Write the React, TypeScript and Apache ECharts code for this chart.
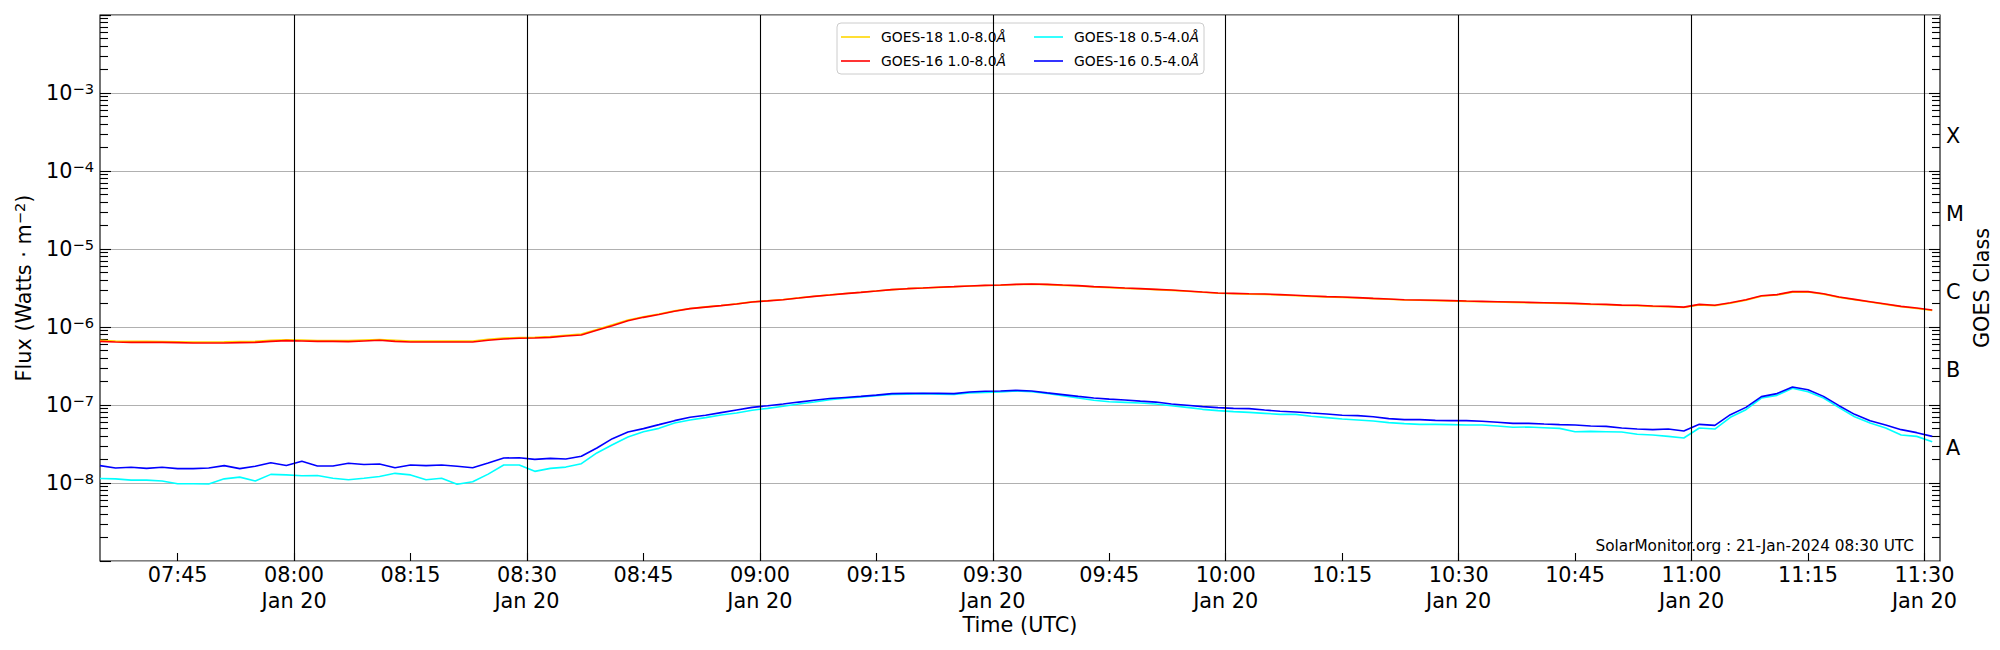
import React, { useEffect, useRef } from "react";
import * as echarts from "echarts";

// ---- sampling grid (minutes since 00:00 UTC, 20 Jan 2024) ----
const SAMPLE_START_MIN = 455; // 07:35 UTC
const SAMPLE_STEP_MIN = 2;
const X_MIN = 455; // 07:35
const X_MAX = 692; // 11:32
const TIME_TICKS = [465, 480, 495, 510, 525, 540, 555, 570, 585, 600, 615, 630, 645, 660, 675, 690];
const HALF_HOURS = [480, 510, 540, 570, 600, 630, 660, 690];
const DATE_LABEL = "Jan 20";

// ---- y axis ----
const Y_MIN = 1e-9;
const Y_MAX = 1e-2;
const Y_LABEL_EXPONENTS = [-8, -7, -6, -5, -4, -3];
const Y_DECADES = [-9, -8, -7, -6, -5, -4, -3];
const MINOR_MULTIPLIERS = [2, 3, 4, 5, 6, 7, 8, 9];
const CLASS_LABELS = ["A", "B", "C", "M", "X"];
const CLASS_POS = [-7.5, -6.5, -5.5, -4.5, -3.5];

// ---- series (W/m^2), one value every 2 min from 07:35 ----
const g18Long = [
  6.75e-7, 6.60e-7, 6.55e-7, 6.55e-7, 6.50e-7, 6.45e-7, 6.40e-7, 6.42e-7, 6.45e-7, 6.50e-7,
  6.55e-7, 6.75e-7, 6.85e-7, 6.80e-7, 6.72e-7, 6.70e-7, 6.68e-7, 6.80e-7, 6.90e-7, 6.75e-7,
  6.60e-7, 6.62e-7, 6.60e-7, 6.60e-7, 6.62e-7, 6.95e-7, 7.20e-7, 7.35e-7, 7.40e-7, 7.55e-7,
  7.85e-7, 8.10e-7, 9.30e-7, 1.07e-6, 1.23e-6, 1.35e-6, 1.47e-6, 1.61e-6, 1.73e-6, 1.81e-6,
  1.89e-6, 1.98e-6, 2.10e-6, 2.17e-6, 2.25e-6, 2.36e-6, 2.48e-6, 2.58e-6, 2.69e-6, 2.79e-6,
  2.90e-6, 3.01e-6, 3.10e-6, 3.16e-6, 3.22e-6, 3.28e-6, 3.35e-6, 3.40e-6, 3.43e-6, 3.50e-6,
  3.53e-6, 3.49e-6, 3.42e-6, 3.35e-6, 3.26e-6, 3.20e-6, 3.13e-6, 3.07e-6, 3.01e-6, 2.95e-6,
  2.87e-6, 2.79e-6, 2.71e-6, 2.67e-6, 2.64e-6, 2.62e-6, 2.57e-6, 2.52e-6, 2.47e-6, 2.43e-6,
  2.40e-6, 2.35e-6, 2.31e-6, 2.27e-6, 2.22e-6, 2.20e-6, 2.18e-6, 2.16e-6, 2.13e-6, 2.11e-6,
  2.09e-6, 2.07e-6, 2.05e-6, 2.03e-6, 2.01e-6, 1.99e-6, 1.95e-6, 1.93e-6, 1.89e-6, 1.88e-6,
  1.84e-6, 1.82e-6, 1.78e-6, 1.92e-6, 1.88e-6, 2.02e-6, 2.21e-6, 2.48e-6, 2.57e-6, 2.80e-6,
  2.81e-6, 2.64e-6, 2.40e-6, 2.24e-6, 2.09e-6, 1.95e-6, 1.82e-6, 1.73e-6, 1.63e-6,
];
const g16Long = [
  6.55e-7, 6.42e-7, 6.36e-7, 6.36e-7, 6.36e-7, 6.30e-7, 6.24e-7, 6.24e-7, 6.24e-7, 6.30e-7,
  6.36e-7, 6.55e-7, 6.68e-7, 6.62e-7, 6.55e-7, 6.55e-7, 6.49e-7, 6.62e-7, 6.75e-7, 6.55e-7,
  6.42e-7, 6.42e-7, 6.42e-7, 6.42e-7, 6.42e-7, 6.75e-7, 7.02e-7, 7.16e-7, 7.23e-7, 7.37e-7,
  7.67e-7, 7.89e-7, 9.06e-7, 1.04e-6, 1.205e-6, 1.33e-6, 1.45e-6, 1.59e-6, 1.72e-6, 1.80e-6,
  1.88e-6, 1.97e-6, 2.09e-6, 2.16e-6, 2.24e-6, 2.35e-6, 2.47e-6, 2.57e-6, 2.68e-6, 2.78e-6,
  2.89e-6, 3.01e-6, 3.10e-6, 3.16e-6, 3.23e-6, 3.29e-6, 3.36e-6, 3.42e-6, 3.45e-6, 3.52e-6,
  3.56e-6, 3.52e-6, 3.45e-6, 3.39e-6, 3.29e-6, 3.23e-6, 3.16e-6, 3.10e-6, 3.04e-6, 2.98e-6,
  2.90e-6, 2.81e-6, 2.73e-6, 2.70e-6, 2.67e-6, 2.65e-6, 2.60e-6, 2.55e-6, 2.50e-6, 2.45e-6,
  2.42e-6, 2.38e-6, 2.33e-6, 2.29e-6, 2.24e-6, 2.22e-6, 2.20e-6, 2.18e-6, 2.15e-6, 2.13e-6,
  2.11e-6, 2.09e-6, 2.07e-6, 2.05e-6, 2.03e-6, 2.01e-6, 1.97e-6, 1.95e-6, 1.91e-6, 1.90e-6,
  1.86e-6, 1.84e-6, 1.80e-6, 1.95e-6, 1.90e-6, 2.05e-6, 2.24e-6, 2.52e-6, 2.60e-6, 2.84e-6,
  2.84e-6, 2.67e-6, 2.42e-6, 2.26e-6, 2.11e-6, 1.97e-6, 1.84e-6, 1.75e-6, 1.65e-6,
];
const g18Short = [
  1.14e-8, 1.13e-8, 1.09e-8, 1.09e-8, 1.06e-8, 9.80e-9, 9.80e-9, 9.71e-9, 1.13e-8, 1.19e-8,
  1.06e-8, 1.29e-8, 1.27e-8, 1.24e-8, 1.25e-8, 1.15e-8, 1.10e-8, 1.15e-8, 1.21e-8, 1.33e-8,
  1.27e-8, 1.10e-8, 1.15e-8, 9.62e-9, 1.04e-8, 1.30e-8, 1.70e-8, 1.70e-8, 1.41e-8, 1.54e-8,
  1.60e-8, 1.77e-8, 2.43e-8, 3.10e-8, 3.89e-8, 4.55e-8, 5.02e-8, 5.88e-8, 6.43e-8, 6.89e-8,
  7.45e-8, 7.89e-8, 8.55e-8, 9.06e-8, 9.62e-8, 1.03e-7, 1.09e-7, 1.17e-7, 1.22e-7, 1.27e-7,
  1.32e-7, 1.37e-7, 1.38e-7, 1.40e-7, 1.38e-7, 1.37e-7, 1.43e-7, 1.45e-7, 1.47e-7, 1.51e-7,
  1.48e-7, 1.41e-7, 1.32e-7, 1.23e-7, 1.15e-7, 1.10e-7, 1.08e-7, 1.06e-7, 1.03e-7, 9.80e-8,
  9.33e-8, 8.80e-8, 8.46e-8, 8.22e-8, 8.05e-8, 7.82e-8, 7.59e-8, 7.59e-8, 7.16e-8, 6.89e-8,
  6.62e-8, 6.43e-8, 6.24e-8, 5.94e-8, 5.77e-8, 5.65e-8, 5.65e-8, 5.60e-8, 5.55e-8, 5.55e-8,
  5.38e-8, 5.18e-8, 5.22e-8, 5.12e-8, 5.02e-8, 4.55e-8, 4.59e-8, 4.55e-8, 4.51e-8, 4.21e-8,
  4.12e-8, 3.96e-8, 3.78e-8, 5.07e-8, 4.92e-8, 6.95e-8, 8.71e-8, 1.23e-7, 1.33e-7, 1.64e-7,
  1.48e-7, 1.23e-7, 9.25e-8, 7.08e-8, 5.88e-8, 5.07e-8, 4.12e-8, 3.96e-8, 3.39e-8,
];
const g16Short = [
  1.67e-8, 1.56e-8, 1.59e-8, 1.54e-8, 1.59e-8, 1.53e-8, 1.53e-8, 1.56e-8, 1.67e-8, 1.53e-8,
  1.64e-8, 1.82e-8, 1.68e-8, 1.90e-8, 1.65e-8, 1.65e-8, 1.79e-8, 1.73e-8, 1.75e-8, 1.57e-8,
  1.70e-8, 1.67e-8, 1.70e-8, 1.64e-8, 1.57e-8, 1.80e-8, 2.09e-8, 2.11e-8, 2.01e-8, 2.07e-8,
  2.03e-8, 2.20e-8, 2.81e-8, 3.70e-8, 4.51e-8, 4.98e-8, 5.60e-8, 6.30e-8, 6.95e-8, 7.38e-8,
  7.98e-8, 8.63e-8, 9.33e-8, 9.80e-8, 1.03e-7, 1.09e-7, 1.15e-7, 1.21e-7, 1.25e-7, 1.29e-7,
  1.34e-7, 1.40e-7, 1.41e-7, 1.41e-7, 1.41e-7, 1.40e-7, 1.47e-7, 1.50e-7, 1.51e-7, 1.54e-7,
  1.51e-7, 1.43e-7, 1.36e-7, 1.29e-7, 1.23e-7, 1.19e-7, 1.16e-7, 1.12e-7, 1.09e-7, 1.03e-7,
  9.91e-8, 9.53e-8, 9.25e-8, 9.06e-8, 8.98e-8, 8.63e-8, 8.30e-8, 8.13e-8, 7.89e-8, 7.67e-8,
  7.38e-8, 7.30e-8, 7.08e-8, 6.68e-8, 6.49e-8, 6.49e-8, 6.36e-8, 6.30e-8, 6.30e-8, 6.18e-8,
  6.00e-8, 5.82e-8, 5.82e-8, 5.70e-8, 5.60e-8, 5.55e-8, 5.38e-8, 5.32e-8, 5.07e-8, 4.92e-8,
  4.83e-8, 4.92e-8, 4.65e-8, 5.65e-8, 5.48e-8, 7.52e-8, 9.33e-8, 1.28e-7, 1.40e-7, 1.70e-7,
  1.57e-7, 1.29e-7, 9.80e-8, 7.59e-8, 6.30e-8, 5.55e-8, 4.83e-8, 4.42e-8, 3.96e-8,
];

const SERIES_NAMES = {
  g18Long: "GOES-18 1.0-8.0Å",
  g16Long: "GOES-16 1.0-8.0Å",
  g18Short: "GOES-18 0.5-4.0Å",
  g16Short: "GOES-16 0.5-4.0Å",
};
const WATERMARK = "SolarMonitor.org : 21-Jan-2024 08:30 UTC";

const FONT = "DejaVu Sans";
const BIG = 20.8;
const SUP = 14.6;

const pad2 = (n: number) => String(n).padStart(2, "0");
const fmtHM = (m: number) => `${pad2(Math.floor(m / 60))}:${pad2(m % 60)}`;

function buildOption() {
  const times = g16Long.map((_, k) => SAMPLE_START_MIN + k * SAMPLE_STEP_MIN);
  const toData = (vals: number[]) => vals.map((v, k) => [times[k], v]);

  const minorPos: number[] = [];
  for (const d of Y_DECADES) for (const m of MINOR_MULTIPLIERS) minorPos.push(d + Math.log10(m));

  const tickStyle = { color: "#000", width: 1.1 };

  const legendText = {
    fontFamily: FONT,
    fontSize: 13.9,
    color: "#000",
    lineHeight: 18,
    padding: [0, 0, 0, 6],
    rich: {
      n: { fontFamily: FONT, fontSize: 13.9, color: "#000", lineHeight: 18 },
      i: { fontFamily: FONT, fontSize: 13.9, color: "#000", fontStyle: "italic", lineHeight: 18 },
    },
  };
  const legendFormatter = (name: string) => `{n|${name.slice(0, -1)}}{i|Å}`;
  const legendCommon = {
    orient: "vertical",
    top: 28,
    padding: 0,
    itemGap: 6,
    itemWidth: 29,
    itemHeight: 1.6,
    icon: "rect",
    z: 6,
    textStyle: legendText,
    formatter: legendFormatter,
  };

  const line = (name: string, vals: number[], color: string, extra: any = {}) => ({
    name,
    type: "line",
    data: toData(vals),
    showSymbol: false,
    symbol: "none",
    color,
    lineStyle: { color, width: 1.6 },
    itemStyle: { color },
    emphasis: { disabled: true },
    xAxisIndex: 0,
    yAxisIndex: 0,
    ...extra,
  });

  return {
    animation: false,
    backgroundColor: "#fff",
    textStyle: { fontFamily: FONT },
    grid: {
      left: 100,
      right: 60,
      top: 15,
      bottom: 89,
      show: true,
      borderColor: "#000",
      borderWidth: 1.1,
      backgroundColor: "transparent",
      outerBoundsMode: "none",
    },
    legend: [
      { ...legendCommon, left: 841, data: [SERIES_NAMES.g18Long, SERIES_NAMES.g16Long] },
      { ...legendCommon, left: 1034, data: [SERIES_NAMES.g18Short, SERIES_NAMES.g16Short] },
    ],
    xAxis: {
      type: "value",
      min: X_MIN,
      max: X_MAX,
      name: "Time (UTC)",
      nameLocation: "middle",
      nameGap: 52,
      nameMoveOverlap: false,
      nameTextStyle: { fontFamily: FONT, fontSize: BIG, color: "#000", lineHeight: 24 },
      axisLine: { show: false },
      splitLine: { show: false },
      axisTick: { show: true, inside: true, length: 8, lineStyle: tickStyle, customValues: TIME_TICKS },
      axisLabel: {
        customValues: TIME_TICKS,
        margin: 1,
        fontFamily: FONT,
        fontSize: BIG,
        color: "#000",
        lineHeight: 26,
        formatter: (v: number) => {
          const m = Math.round(v);
          const s = fmtHM(m);
          return HALF_HOURS.includes(m) ? `${s}\n${DATE_LABEL}` : s;
        },
      },
    },
    yAxis: [
      {
        type: "log",
        logBase: 10,
        min: Y_MIN,
        max: Y_MAX,
        position: "left",
        name: "{n|Flux (Watts · m}{s|−2}{n|)}",
        nameLocation: "middle",
        nameGap: 64,
        nameMoveOverlap: false,
        nameRotate: 90,
        nameTextStyle: {
          rich: {
            n: { fontFamily: FONT, fontSize: BIG, color: "#000", lineHeight: 24 },
            s: { fontFamily: FONT, fontSize: SUP, color: "#000", lineHeight: 14, verticalAlign: "top" },
          },
        },
        axisLine: { show: false },
        axisTick: { show: true, inside: true, length: 11, lineStyle: tickStyle },
        splitLine: { show: true, lineStyle: { color: "#b0b0b0", width: 1.1 } },
        axisLabel: {
          margin: 6,
          formatter: (v: number) => {
            const e = Math.round(Math.log10(v));
            if (!Y_LABEL_EXPONENTS.includes(e)) return "";
            return `{b|10}{e|−${-e}}`;
          },
          rich: {
            b: { fontFamily: FONT, fontSize: BIG, color: "#000", lineHeight: 24 },
            e: { fontFamily: FONT, fontSize: SUP, color: "#000", lineHeight: 14, verticalAlign: "top" },
          },
        },
      },
      {
        type: "value",
        min: -9,
        max: -2,
        position: "left",
        axisLine: { show: false },
        splitLine: { show: false },
        axisLabel: { show: false },
        axisTick: { show: true, inside: true, length: 8, lineStyle: tickStyle, customValues: minorPos },
      },
      {
        type: "value",
        min: -9,
        max: -2,
        position: "right",
        name: "GOES Class",
        nameLocation: "middle",
        nameGap: 30,
        nameMoveOverlap: false,
        nameRotate: 90,
        nameTextStyle: { fontFamily: FONT, fontSize: BIG, color: "#000", lineHeight: 24 },
        axisLine: { show: false },
        splitLine: { show: false },
        axisTick: { show: true, inside: true, length: 11, lineStyle: tickStyle, customValues: Y_DECADES.slice(1) },
        axisLabel: {
          customValues: CLASS_POS,
          margin: 6,
          formatter: (v: number) => {
            const k = CLASS_POS.findIndex((p) => Math.abs(p - v) < 1e-6);
            return k >= 0 ? `{c|${CLASS_LABELS[k]}}{sp| }` : "";
          },
          rich: {
            c: { fontFamily: FONT, fontSize: BIG, color: "#000", lineHeight: 24, verticalAlign: "bottom" },
            sp: { fontFamily: FONT, fontSize: 4, color: "#000", lineHeight: 29 },
          },
        },
      },
      {
        type: "value",
        min: -9,
        max: -2,
        position: "right",
        axisLine: { show: false },
        splitLine: { show: false },
        axisLabel: { show: false },
        axisTick: { show: true, inside: true, length: 8, lineStyle: tickStyle, customValues: minorPos },
      },
    ],
    graphic: [
      {
        type: "rect",
        z: 5,
        silent: true,
        shape: { x: 837, y: 23, width: 367, height: 51, r: 4 },
        style: { fill: "rgba(255,255,255,0.8)", stroke: "#cccccc", lineWidth: 1 },
      },
      {
        type: "text",
        z: 5,
        silent: true,
        x: 1914,
        y: 546,
        style: {
          text: WATERMARK,
          fontFamily: FONT,
          fontSize: 15.3,
          fill: "#000",
          align: "right",
          verticalAlign: "middle",
        },
      },
    ],
    series: [
      line(SERIES_NAMES.g18Long, g18Long, "#ffd700", {
        markLine: {
          silent: true,
          symbol: ["none", "none"],
          label: { show: false },
          emphasis: { disabled: true },
          lineStyle: { color: "#000", width: 1.1, type: "solid" },
          data: HALF_HOURS.map((m) => ({ xAxis: m })),
        },
      }),
      line(SERIES_NAMES.g16Long, g16Long, "#ff0000"),
      line(SERIES_NAMES.g18Short, g18Short, "#00ffff"),
      line(SERIES_NAMES.g16Short, g16Short, "#0000ff"),
    ],
  };
}

export default function App() {
  const ref = useRef<HTMLDivElement>(null);
  useEffect(() => {
    document.body.style.margin = "0";
    if (!ref.current) return;
    const chart = echarts.init(ref.current, undefined, { renderer: "svg" });
    chart.setOption(buildOption() as any);
    return () => chart.dispose();
  }, []);
  return <div ref={ref} style={{ width: 2000, height: 650, background: "#fff" }} />;
}
